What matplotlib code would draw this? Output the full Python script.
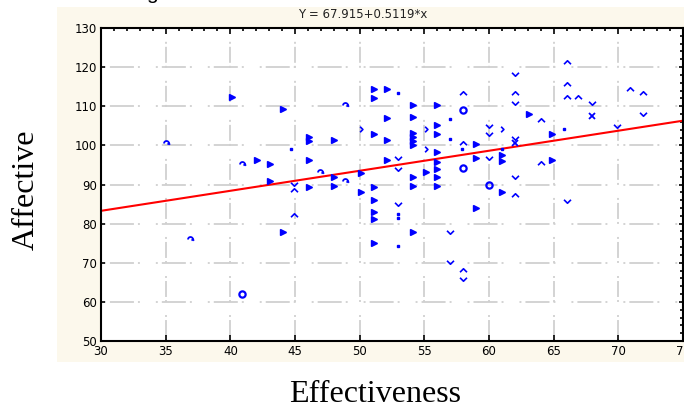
import matplotlib
matplotlib.use("Agg")
import matplotlib.pyplot as plt
from matplotlib.patches import Rectangle
from matplotlib.path import Path
from matplotlib.ticker import MultipleLocator

plt.rcParams['lines.scale_dashes'] = False

# regression line Y = a + b*x
intercept = 67.915
slope = 0.5119

# points, grouped by how the marker looks
tri_x = [40.1, 44.1, 46.1, 46.1, 42.1, 43.1, 46.1, 43.1, 46.1, 44.1,
         51.1, 52.1, 51.1, 54.1, 56.0, 52.1, 54.1, 56.0, 51.1, 54.1,
         54.1, 54.1, 54.1, 52.1, 48.0, 56.0, 56.0, 52.1, 56.0, 56.0,
         50.1, 55.1, 54.1, 54.1, 56.0, 56.0, 48.0, 48.0, 51.1, 50.1,
         51.1, 51.1, 51.1, 54.1, 51.1,
         63.1, 59.0, 64.9, 59.0, 61.0, 61.0, 64.9, 61.0, 59.0]
tri_y = [112.4, 109.2, 102.2, 101.0, 96.2, 95.3, 96.2, 91.0, 89.3, 77.8,
         114.4, 114.4, 112.1, 110.3, 110.3, 107.1, 107.3, 105.1, 103.0, 103.2,
         102.2, 101.2, 100.2, 101.3, 101.3, 103.0, 98.3, 96.2, 95.7, 94.0,
         92.9, 93.2, 91.9, 89.7, 91.9, 89.7, 91.9, 89.7, 89.3, 88.0,
         86.1, 82.9, 81.2, 77.8, 75.0,
         108.1, 100.4, 103.0, 96.8, 97.5, 96.0, 96.2, 88.0, 84.0]

gt_x = [50.1, 55.1, 55.1, 61.0]
gt_y = [104.1, 104.1, 99.2, 104.2]

up_x = [44.9, 44.9, 58.0, 62.0, 64.0, 58.0, 64.0, 62.0, 58.0,
        66.0, 66.0, 66.0, 66.9, 70.9, 71.9]
up_y = [88.5, 82.3, 113.4, 113.4, 106.4, 100.6, 95.5, 87.4, 68.2,
        121.4, 115.6, 112.4, 112.4, 114.5, 113.3]

down_x = [44.9, 53.0, 53.0, 53.0, 62.0, 62.0, 60.0, 60.0, 62.0, 60.0,
          62.0, 57.0, 57.0, 58.0, 68.0, 71.9, 69.9, 66.0]
down_y = [90.2, 96.8, 94.0, 84.9, 118.2, 110.9, 104.9, 102.8, 102.0, 96.8,
          91.9, 77.8, 70.1, 65.8, 110.9, 108.0, 104.9, 85.7]

cross_x = [62.0, 68.0]
cross_y = [100.6, 107.5]

ring_x = [40.9, 58.0, 58.0, 60.0]
ring_y = [62.0, 109.0, 94.3, 89.9]

dot_x = [44.7, 53.0, 53.0, 53.0, 53.0, 57.0, 57.0, 57.9, 61.0, 65.8]
dot_y = [99.2, 113.5, 82.5, 81.5, 74.4, 106.7, 101.7, 99.2, 99.2, 104.1]

curl_x = [35.0, 40.9, 46.9, 36.9, 48.9, 48.9]
curl_y = [100.5, 95.3, 93.2, 76.1, 110.3, 91.0]

xticks = [30, 35, 40, 45, 50, 55, 60, 65, 70, 75]
yticks = [50, 60, 70, 80, 90, 100, 110, 120, 130]

fig = plt.figure(figsize=(6.84, 4.09), dpi=100)

# cream panel behind the plot
fig.patches.append(Rectangle((57 / 684, 1 - 362 / 409), 1 - 57 / 684, (362 - 7) / 409,
                             transform=fig.transFigure, facecolor='#fcf8ec',
                             edgecolor='none', zorder=-5))

ax = fig.add_axes([101 / 684, 1 - 341 / 409, 582 / 684, 313 / 409])
ax.set_zorder(2)
ax.set_facecolor('white')
ax.set_xlim(30, 75)
ax.set_ylim(50, 130)

# grid, drawn with the odd dash-dot pattern of the original
hdash = (31, (17.3, 2.9, 1.4, 11.5, 1.4, 2.9))
vdash = (0, (1.4, 2.2, 11.5, 2.2, 1.4, 9.4))
for yv in yticks[1:-1]:
    ax.axhline(yv, color='#d0d0d0', lw=1.3, linestyle=hdash, zorder=1)
for xv in xticks[1:-1]:
    ax.axvline(xv, color='#d0d0d0', lw=1.3, linestyle=vdash, zorder=1)

# regression line
lx = [30, 75]
ly = [intercept + slope * v for v in lx]
ax.plot(lx, ly, color='red', lw=1.5, zorder=2)

chev_up = Path([(-1, -0.5), (0, 0.5), (1, -0.5)])
chev_down = Path([(-1, 0.5), (0, -0.5), (1, 0.5)])
chev_right = Path([(-0.5, 1), (0.5, 0), (-0.5, -1)])
arc = Path.arc(0, 180)
curl = Path.make_compound_path(arc, Path([(0.4, -0.4), (1, 0), (1.4, -0.5)]))

ax.plot(tri_x, tri_y, ls='none', marker='>', ms=4.2, color='blue', zorder=3)
ax.plot(gt_x, gt_y, ls='none', marker=chev_right, ms=4, mfc='none', mec='blue', mew=1.2, zorder=3)
ax.plot(up_x, up_y, ls='none', marker=chev_up, ms=5, mfc='none', mec='blue', mew=1.2, zorder=3)
ax.plot(down_x, down_y, ls='none', marker=chev_down, ms=5, mfc='none', mec='blue', mew=1.2, zorder=3)
ax.plot(cross_x, cross_y, ls='none', marker='x', ms=4, mec='blue', mew=1.3, zorder=3)
ax.plot(ring_x, ring_y, ls='none', marker='o', ms=4.5, mfc='none', mec='blue', mew=1.6, zorder=3)
ax.plot(dot_x, dot_y, ls='none', marker='s', ms=1.6, color='blue', zorder=3)
ax.plot(curl_x, curl_y, ls='none', marker=curl, ms=5, mfc='none', mec='blue', mew=1.3, zorder=3)

# axes, ticks
for s in ax.spines.values():
    s.set_linewidth(1.5)
    s.set_color('black')
    s.set_zorder(4)

ax.set_xticks(xticks)
ax.set_yticks(yticks)
ax.xaxis.set_minor_locator(MultipleLocator(1))
ax.yaxis.set_minor_locator(MultipleLocator(2))
ax.tick_params(axis='x', which='major', direction='in', top=True, bottom=True,
               length=4, width=1.2, pad=3, labelsize=8.5)
ax.tick_params(axis='x', which='minor', direction='in', top=True, bottom=False,
               length=2.5, width=1.2)
ax.tick_params(axis='y', which='major', direction='in', left=True, right=True,
               length=3, width=1.2, pad=3, labelsize=8.5)
ax.tick_params(axis='y', which='minor', direction='in', left=False, right=True,
               length=2.5, width=1.2)

fig.text(363 / 684, 1 - 15 / 409, 'Y = 67.915+0.5119*x', ha='center', va='center',
         fontsize=8.5, color='#222222')
# only the tail of a "g" from a caption above shows at the top edge
fig.text(152 / 684, 1 + 1 / 409, 'g', ha='center', va='baseline', fontsize=15,
         family='Liberation Sans')

fig.text(26 / 684, 1 - 190 / 409, 'Affective', rotation=90, ha='center', va='center',
         fontsize=23, family='Liberation Serif')
fig.text(375 / 684, 1 - 394 / 409, 'Effectiveness', ha='center', va='center',
         fontsize=23, family='Liberation Serif')

fig.savefig('out.png', dpi=100)
